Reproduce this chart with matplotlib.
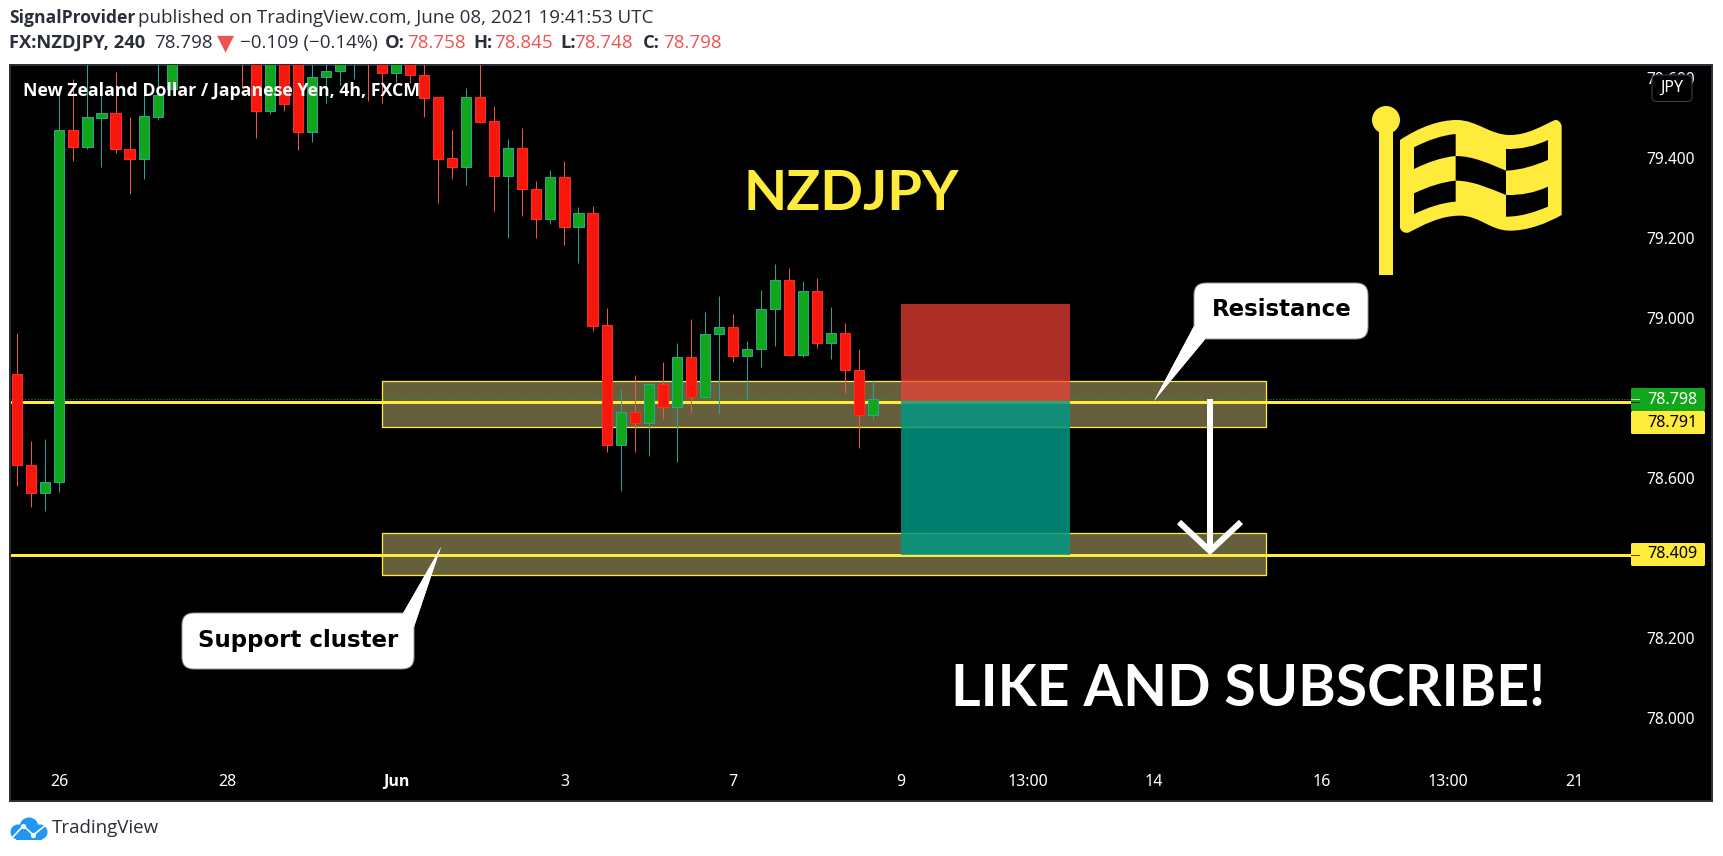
import matplotlib
matplotlib.use('Agg')
import matplotlib.pyplot as plt
from matplotlib.patches import Rectangle, FancyBboxPatch, Polygon, PathPatch, Circle
from matplotlib.path import Path

W, H = 1723, 856

# OHLC (bars above the top edge are estimates)
opens = [78.860, 78.633, 78.564, 78.590, 79.470, 79.429, 79.502, 79.513, 79.423, 79.399, 79.504, 79.573,
         79.660, 79.700, 79.730, 79.700, 79.700, 79.700, 79.519, 79.700, 79.680, 79.467, 79.603, 79.618,
         79.640, 79.700, 79.660, 79.614, 79.660, 79.608, 79.553, 79.400, 79.379, 79.553, 79.493, 79.357,
         79.425, 79.324, 79.249, 79.353, 79.229, 79.263, 78.983, 78.684, 78.765, 78.739, 78.835, 78.778,
         78.903, 78.803, 78.960, 78.978, 78.905, 78.923, 79.023, 79.095, 78.908, 79.068, 78.938, 78.963,
         78.870, 78.758]
highs = [78.963, 78.694, 78.699, 79.567, 79.598, 79.660, 79.584, 79.616, 79.503, 79.563, 79.650, 79.700,
         79.740, 79.780, 79.800, 79.760, 79.750, 79.740, 79.720, 79.730, 79.720, 79.650, 79.645, 79.680,
         79.720, 79.740, 79.700, 79.680, 79.690, 79.660, 79.553, 79.471, 79.576, 79.660, 79.531, 79.449,
         79.475, 79.344, 79.370, 79.393, 79.278, 79.281, 79.026, 78.823, 78.858, 78.839, 78.890, 78.938,
         78.998, 79.015, 79.055, 79.010, 78.943, 79.070, 79.136, 79.125, 79.094, 79.100, 79.029, 78.988,
         78.923, 78.845]
lows = [78.582, 78.529, 78.519, 78.567, 79.394, 79.424, 79.379, 79.414, 79.312, 79.349, 79.497, 79.570,
        79.640, 79.660, 79.680, 79.650, 79.575, 79.451, 79.512, 79.519, 79.422, 79.442, 79.539, 79.583,
        79.599, 79.544, 79.539, 79.592, 79.588, 79.504, 79.289, 79.349, 79.334, 79.489, 79.269, 79.202,
        79.257, 79.202, 79.237, 79.184, 79.139, 78.969, 78.667, 78.569, 78.667, 78.657, 78.749, 78.642,
        78.767, 78.800, 78.764, 78.892, 78.798, 78.879, 78.932, 78.908, 78.904, 78.927, 78.899, 78.814,
        78.677, 78.748]
closes = [78.633, 78.564, 78.590, 79.470, 79.429, 79.503, 79.513, 79.423, 79.399, 79.505, 79.559, 79.640,
          79.700, 79.730, 79.700, 79.680, 79.660, 79.519, 79.700, 79.537, 79.467, 79.603, 79.618, 79.650,
          79.700, 79.650, 79.614, 79.660, 79.608, 79.552, 79.399, 79.379, 79.553, 79.492, 79.357, 79.425,
          79.324, 79.249, 79.353, 79.229, 79.263, 78.982, 78.684, 78.765, 78.739, 78.835, 78.778, 78.903,
          78.803, 78.960, 78.978, 78.905, 78.923, 79.023, 79.095, 78.908, 79.068, 78.938, 78.963, 78.870,
          78.758, 78.798]

price_ticks = [78.0, 78.2, 78.6, 79.0, 79.2, 79.4, 79.6]
price_labels = ['78.000', '78.200', '78.600', '79.000', '79.200', '79.400', '79.600']
time_ticks = [3, 15, 27, 39, 51, 63, 72, 81, 93, 102, 111]
time_labels = ['26', '28', 'Jun', '3', '7', '9', '13:00', '14', '16', '13:00', '21']

level_upper = 78.791
level_lower = 78.409
last_price = 78.798
zones = [(78.728, 78.843), (78.358, 78.463)]
zone_bars = (26, 89)
pos_bars = (63, 75)
pos_stop, pos_entry, pos_target = 79.036, 78.793, 78.409

YELLOW = '#ffeb3b'
BORDER = '#2a2e39'
RED_FILL, RED_WICK = '#f7170c', '#ef5350'
GREEN_FILL, GREEN_EDGE = '#12a71a', '#26a69a'

fig = plt.figure(figsize=(W / 100, H / 100), dpi=100, facecolor='white')
px = 0.72  # points per pixel

# main chart, lined up with the pixel frame of the screenshot
L, R, T, B = 10, 1712, 65, 801
ax = fig.add_axes([L / W, 1 - B / H, (R - L) / W, (B - T) / H], facecolor='black')
ax.set_xlim((L - 17.3) / 14.03, (R - 17.3) / 14.03)
ax.set_ylim(78.6 + (478.5 - B) / 400, 78.6 + (478.5 - T) / 400)
for s in ax.spines.values():
    s.set_color(BORDER)
    s.set_linewidth(2 * px)

ax.yaxis.tick_right()
ax.set_yticks(price_ticks, price_labels)
ax.tick_params(axis='y', length=0, pad=-47, labelcolor='white', labelsize=11.2)
ax.set_xticks(time_ticks, time_labels)
ax.tick_params(axis='x', length=0, pad=-19.5, labelcolor='white', labelsize=11.5)
for t in ax.get_yticklabels() + ax.get_xticklabels():
    t.set_family('Noto Sans')
ax.get_xticklabels()[2].set_family('Open Sans')
ax.get_xticklabels()[2].set_fontweight('bold')

# yellow levels and dotted last price stop at the label boxes
line_end = (1631 - 17.3) / 14.03
ax.hlines([level_upper, level_lower], ax.get_xlim()[0], line_end, color=YELLOW, lw=3 * px, zorder=2)
ax.hlines(last_price, ax.get_xlim()[0], line_end, color=GREEN_FILL, lw=1 * px, linestyles=(0, (1, 2)), zorder=2.1)

for lo, hi in zones:
    ax.add_patch(Rectangle((zone_bars[0], lo), zone_bars[1] - zone_bars[0], hi - lo,
                           fc='#655f3c', ec='none', zorder=1))
    ax.add_patch(Rectangle((zone_bars[0], lo), zone_bars[1] - zone_bars[0], hi - lo,
                           fc='none', ec=YELLOW, lw=1.3 * px, zorder=2.2))

# candles
for i in range(len(opens)):
    up = closes[i] >= opens[i]
    wick = GREEN_EDGE if up else RED_WICK
    ax.vlines(i, lows[i], highs[i], color=wick, lw=1 * px, zorder=3)
    ax.add_patch(Rectangle((i - 0.36, min(opens[i], closes[i])), 0.72, abs(closes[i] - opens[i]),
                           fc=GREEN_FILL if up else RED_FILL, ec=GREEN_EDGE if up else '#ff2d1f',
                           lw=1 * px, zorder=4))

# short position tool
ax.add_patch(Rectangle((pos_bars[0], pos_entry), pos_bars[1] - pos_bars[0], pos_stop - pos_entry,
                       fc='#f14137', ec='none', alpha=0.72, zorder=5))
ax.add_patch(Rectangle((pos_bars[0], pos_target), pos_bars[1] - pos_bars[0], pos_entry - pos_target,
                       fc='#009884', ec='none', alpha=0.84, zorder=5))

# overlay in screenshot pixels for drawings and header
ov = fig.add_axes([0, 0, 1, 1], facecolor='none')
ov.set_xlim(0, W)
ov.set_ylim(H, 0)
ov.axis('off')

# arrow
ov.plot([1210, 1210], [399, 549], color='white', lw=6 * px, solid_capstyle='butt', zorder=6)
ov.plot([1179, 1210, 1241], [522, 551, 522], color='white', lw=6 * px, solid_joinstyle='miter',
        solid_capstyle='butt', zorder=6)


def callout(x0, y0, x1, y1, tri, label, cx, cy):
    ov.add_patch(Polygon(tri, closed=True, fc='white', ec='none', zorder=7))
    ov.add_patch(FancyBboxPatch((x0 + 12, y0 + 12), x1 - x0 - 24, y1 - y0 - 24, boxstyle='round,pad=12,rounding_size=12',
                                fc='white', ec='#999999', lw=0.7, zorder=7))
    ov.add_patch(Polygon(tri, closed=True, fc='white', ec='none', zorder=7.1))
    ov.text(cx, cy, label, color='black', fontsize=16.5, fontweight='bold', family='DejaVu Sans',
            ha='center', va='center', zorder=8)


callout(182, 613, 414, 669, [(402, 615), (441, 547), (414, 627)], 'Support cluster', 298, 640)
callout(1194, 283, 1368, 339, [(1194, 326), (1154, 401), (1207, 337)], 'Resistance', 1282, 310)

ov.text(851, 194, 'NZDJPY', color=YELLOW, fontsize=40.5, family='Lato', fontweight='bold', ha='center', va='center')
ov.text(1248, 690, 'LIKE AND SUBSCRIBE!', color='white', fontsize=41, family='Lato', fontweight='bold',
        ha='center', va='center')
ov.text(23, 91, 'New Zealand Dollar / Japanese Yen, 4h, FXCM', color='white', fontsize=12.8,
        family='Open Sans', fontweight='bold', ha='left', va='center', zorder=7)


# flag icon, traced in zoom coordinates
def fz(x, y):
    return (1340 + x / 3, 60 + y / 3)


def wave(pts):
    # pts: start, then (c1, c2, end) triples
    verts, codes = [fz(*pts[0])], [Path.MOVETO]
    for p in pts[1:]:
        verts.append(fz(*p))
        codes.append(Path.CURVE4)
    return verts, codes


def flag_shape(pts, color):
    v, c = wave(pts)
    v.append(v[0])
    c.append(Path.CLOSEPOLY)
    ov.add_patch(PathPatch(Path(v, c), fc=color, ec='none', zorder=6))


ov.add_patch(Circle(fz(138, 180), 14, fc=YELLOW, ec='none', zorder=6))
ov.plot([fz(138, 190)[0]] * 2, [fz(0, 190)[1], fz(0, 645)[1]], color=YELLOW, lw=14 * px,
        solid_capstyle='butt', zorder=6)
outer = [(180, 240), (240, 200), (300, 180), (350, 180), (410, 180), (450, 225), (510, 225),
         (565, 225), (610, 195), (645, 180), (655, 178), (665, 190), (665, 200), (665, 300), (665, 400), (665, 465),
         (620, 490), (565, 512), (510, 512), (450, 512), (420, 467), (360, 467), (300, 467), (250, 495), (205, 518),
         (195, 520), (180, 515), (180, 500), (180, 400), (180, 320), (180, 240)]
flag_shape(outer, YELLOW)
flag_shape([(222, 262), (265, 240), (305, 226), (347, 222), (347, 244), (347, 266), (347, 288),
            (305, 292), (265, 306), (222, 327), (222, 305), (222, 284), (222, 262)], 'black')
flag_shape([(222, 400), (265, 380), (305, 366), (347, 362), (347, 383), (347, 404), (347, 425),
            (305, 428), (265, 442), (222, 462), (222, 441), (222, 420), (222, 400)], 'black')
flag_shape([(498, 267), (545, 268), (585, 258), (624, 240), (624, 260), (624, 280), (624, 300),
            (585, 316), (545, 330), (498, 332), (498, 310), (498, 288), (498, 267)], 'black')
flag_shape([(498, 405), (545, 406), (585, 398), (624, 380), (624, 400), (624, 420), (624, 440),
            (585, 456), (545, 470), (498, 470), (498, 448), (498, 426), (498, 405)], 'black')
flag_shape([(347, 288), (400, 288), (450, 312), (498, 332), (498, 356), (498, 380), (498, 405),
            (450, 386), (400, 362), (347, 362), (347, 337), (347, 312), (347, 288)], 'black')

# price label boxes
boxes = [(388, 411, GREEN_FILL, 'white', last_price, 399.3),
         (411, 434, YELLOW, 'black', level_upper, 402),
         (543, 566, YELLOW, 'black', level_lower, 554.5)]
for y0, y1, fc, tc, val, ytick in boxes:
    ov.add_patch(FancyBboxPatch((1631, y0), 74, y1 - y0, boxstyle='round,pad=0,rounding_size=1.5', fc=fc, ec='none', zorder=8))
    ov.plot([1631, 1639], [ytick, ytick], color=tc, lw=1 * px, alpha=0.7, zorder=9)
    ov.text(1672, (y0 + y1) / 2, f'{val:.3f}', color=tc, fontsize=11.6, family='Noto Sans',
            ha='center', va='center', zorder=9)

# currency box
ov.add_patch(FancyBboxPatch((1652, 75), 40, 26.5, boxstyle='round,pad=0,rounding_size=5', fc='black',
                            ec='#3a3d47', lw=0.8, zorder=8))
ov.text(1672, 88, 'JPY', color='white', fontsize=11.5, family='Noto Sans', ha='center', va='center', zorder=9)

# header
HEAD = '#2a2e39'
NEG = '#ef5350'
ov.text(9, 18, 'SignalProvider', color=HEAD, fontsize=12.6, fontweight='bold', family='Open Sans', va='center')
ov.text(138, 18, 'published on TradingView.com, June 08, 2021 19:41:53 UTC', color=HEAD, fontsize=13.5,
        family='Open Sans', va='center')
ov.text(9, 43, 'FX:NZDJPY, 240', color=HEAD, fontsize=13.2, fontweight='bold', family='Open Sans', va='center')
ov.text(154, 43, '78.798', color=HEAD, fontsize=13.5, family='Open Sans', va='center')
ov.text(217, 43, '\u25bc', color=NEG, fontsize=16, family='DejaVu Sans', va='center')
ov.text(240, 43, '\u22120.109 (\u22120.14%)', color=HEAD, fontsize=13.5, family='Open Sans', va='center')
for lab, lx, val, vx in [('O:', 385, '78.758', 407), ('H:', 473, '78.845', 494),
                         ('L:', 560, '78.748', 574), ('C:', 643, '78.798', 663)]:
    ov.text(lx, 43, lab, color=HEAD, fontsize=13.2, fontweight='bold', family='Open Sans', va='center')
    ov.text(vx, 43, val, color=NEG, fontsize=13.5, family='Open Sans', va='center')

# TradingView logo
BLUE = '#2196f3'
ov.add_patch(Circle((18, 832), 7.5, fc=BLUE, ec='none'))
ov.add_patch(Circle((29, 827), 9.5, fc=BLUE, ec='none'))
ov.add_patch(Circle((40, 832), 7.5, fc=BLUE, ec='none'))
ov.add_patch(Rectangle((16, 832), 26, 7.5, fc=BLUE, ec='none'))
ov.plot([12, 23.3, 33.3, 45], [838, 825.7, 835, 825.7], color='white', lw=1.2, zorder=3)
ov.scatter([23.3, 33.3], [825.7, 835], s=14, c='white', linewidths=0, zorder=3)
ov.text(52, 828, 'TradingView', color=HEAD, fontsize=13.5, family='Open Sans', va='center')

fig.savefig('out.png', dpi=100, facecolor='white')
